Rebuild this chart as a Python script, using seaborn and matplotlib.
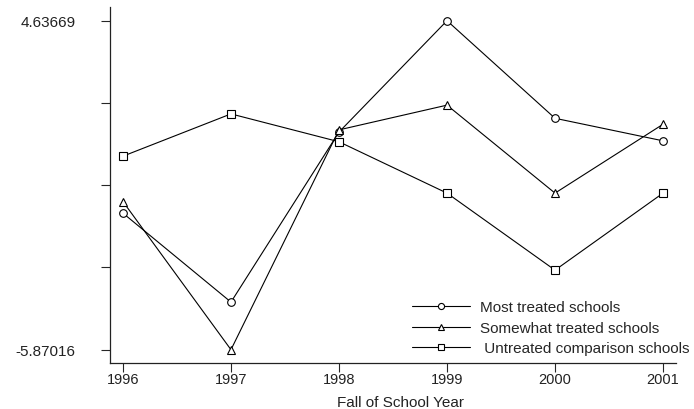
import matplotlib
matplotlib.use("Agg")
import numpy as np
import pandas as pd
import matplotlib.pyplot as plt
import seaborn as sns

# data
years = [1996, 1997, 1998, 1999, 2000, 2001]
most_treated = [-1.51, -4.35, 1.08, 4.63669, 1.52, 0.80]
somewhat_treated = [-1.14, -5.87016, 1.15, 1.94, -0.87, 1.33]
untreated = [0.31, 1.66, 0.77, -0.87, -3.33, -0.87]
group_names = ["Most treated schools", "Somewhat treated schools", " Untreated comparison schools"]
y_min, y_max = -5.87016, 4.63669
y_tick_labels = ["-5.87016", "", "", "", "4.63669"]

df = pd.DataFrame({
    "year": years * 3,
    "value": most_treated + somewhat_treated + untreated,
    "group": [g for g in group_names for _ in years],
})

sns.set_style("ticks")
plt.rcParams["font.family"] = ["Liberation Sans", "DejaVu Sans"]

fig = plt.figure(figsize=(6.94, 4.10), dpi=100)
ax = fig.add_axes([110 / 694, 1 - 364 / 410, 566 / 694, 356 / 410])

sns.lineplot(
    data=df, x="year", y="value", style="group", style_order=group_names,
    markers=["o", "^", "s"], dashes=False, color="black", linewidth=0.8,
    markersize=5.5, markerfacecolor="white", markeredgecolor="black",
    markeredgewidth=0.8, legend=False, ax=ax,
)

ax.set_xlim(1995.88, 2001.12)
ax.set_ylim(-6.295, 5.074)
ax.set_xticks(years)
ax.set_xticklabels([str(y) for y in years], fontsize=10.5, color="#222222")
ax.set_yticks(np.linspace(y_min, y_max, 5))
ax.set_yticklabels(y_tick_labels, fontsize=11, color="#222222")
ax.tick_params(axis="y", direction="out", length=6.5, width=0.8, pad=18.5)
ax.tick_params(axis="x", direction="out", length=6.5, width=0.8, pad=0)
sns.despine(ax=ax)
for s in ["left", "bottom"]:
    ax.spines[s].set_linewidth(0.9)
    ax.spines[s].set_color("#222222")

ax.set_ylabel("")
ax.set_xlabel("Fall of School Year", fontsize=11, color="#222222")
ax.xaxis.set_label_coords(0.514, -0.09)

handles = ax.get_lines()[:3]
fig.legend(handles, group_names, loc="upper left",
           bbox_to_anchor=(412 / 694, 1 - 301.5 / 410), frameon=False,
           fontsize=11, handlelength=3.8, handletextpad=0.65,
           labelspacing=0.42, borderpad=0, borderaxespad=0,
           markerscale=0.8, numpoints=1)

fig.savefig("out.png", dpi=100)
plt.close(fig)
